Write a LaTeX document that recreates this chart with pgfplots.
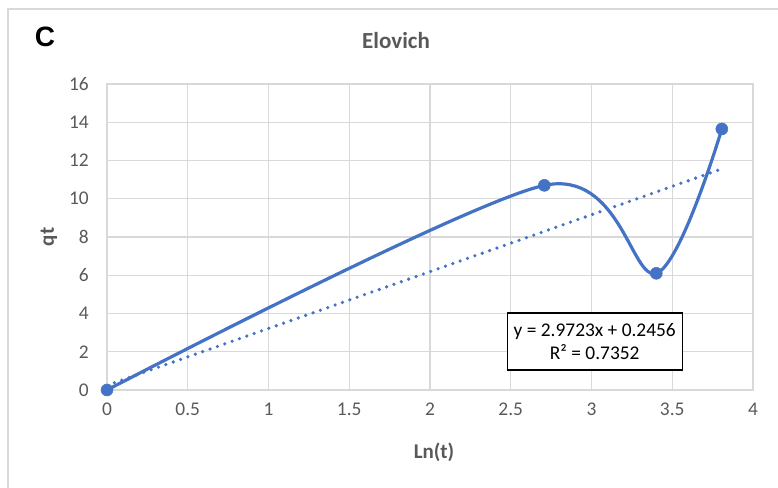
\documentclass[border=0pt]{standalone}
\usepackage{fontspec}
\setmainfont{Carlito}
\newfontfamily\arialfont{Liberation Sans}
\usepackage{pgfplots}
\pgfplotsset{compat=1.18}
\definecolor{serblue}{HTML}{4472C4}
\definecolor{txtgray}{HTML}{595959}
\definecolor{gridgray}{HTML}{D9D9D9}
\definecolor{framegray}{HTML}{D9D9D9}
\begin{document}
\begin{tikzpicture}[x=1pt,y=1pt]
\useasboundingbox (0,0) rectangle (778,487);
\draw[framegray, line width=1.5pt] (8,-2) -- (8,478) -- (780,478);
\node[font=\arialfont\bfseries\fontsize{28}{32}\selectfont, text=black] at (45,450) {C};
\node[font=\bfseries\fontsize{23}{27}\selectfont, text=txtgray] at (396,446.5) {Elovich};
\node[font=\bfseries\fontsize{21}{25}\selectfont, text=txtgray, rotate=90] at (49,250) {qt};
\node[font=\bfseries\fontsize{21}{25}\selectfont, text=txtgray] at (434,35) {Ln(t)};
\begin{axis}[
  at={(107pt,97pt)}, anchor=south west,
  scale only axis, width=646pt, height=306pt,
  xmin=0, xmax=4, ymin=0, ymax=16,
  xtick={0,0.5,1,1.5,2,2.5,3,3.5,4},
  xticklabels={0,0.5,1,1.5,2,2.5,3,3.5,4},
  ytick={0,2,4,6,8,10,12,14,16},
  major tick length=0pt,
  grid=major,
  major grid style={gridgray, line width=1.3pt},
  axis line style={gridgray, line width=1.3pt},
  ticklabel style={font=\fontsize{19.4}{23}\selectfont, text=txtgray, inner sep=0pt},
  yticklabel style={anchor=east, xshift=-18pt},
  xticklabel style={anchor=north, yshift=-13pt},
  /pgf/number format/assume math mode=true,
  clip=false,
  axis on top=false,
]
\addplot[serblue, line width=3.6pt, line cap=round, dash pattern=on 0pt off 7.8pt]
  coordinates {(0,0.2456) (3.807,11.5614)};
\addplot[serblue, line width=3.2pt, smooth, mark=*, mark size=6pt, mark options={fill=serblue, draw=serblue, solid, line width=0.5pt}]
  coordinates {(0,0.0) (2.708,10.70) (3.401,6.10) (3.807,13.65)};
\node[draw=black, fill=white, line width=1.2pt, inner sep=0pt, minimum width=175pt, minimum height=57pt, align=center, font=\fontsize{19.4}{23.5}\selectfont] at (axis cs:3.02,2.54) {y = 2.9723x + 0.2456\\R² = 0.7352};
\end{axis}
\end{tikzpicture}
\end{document}
